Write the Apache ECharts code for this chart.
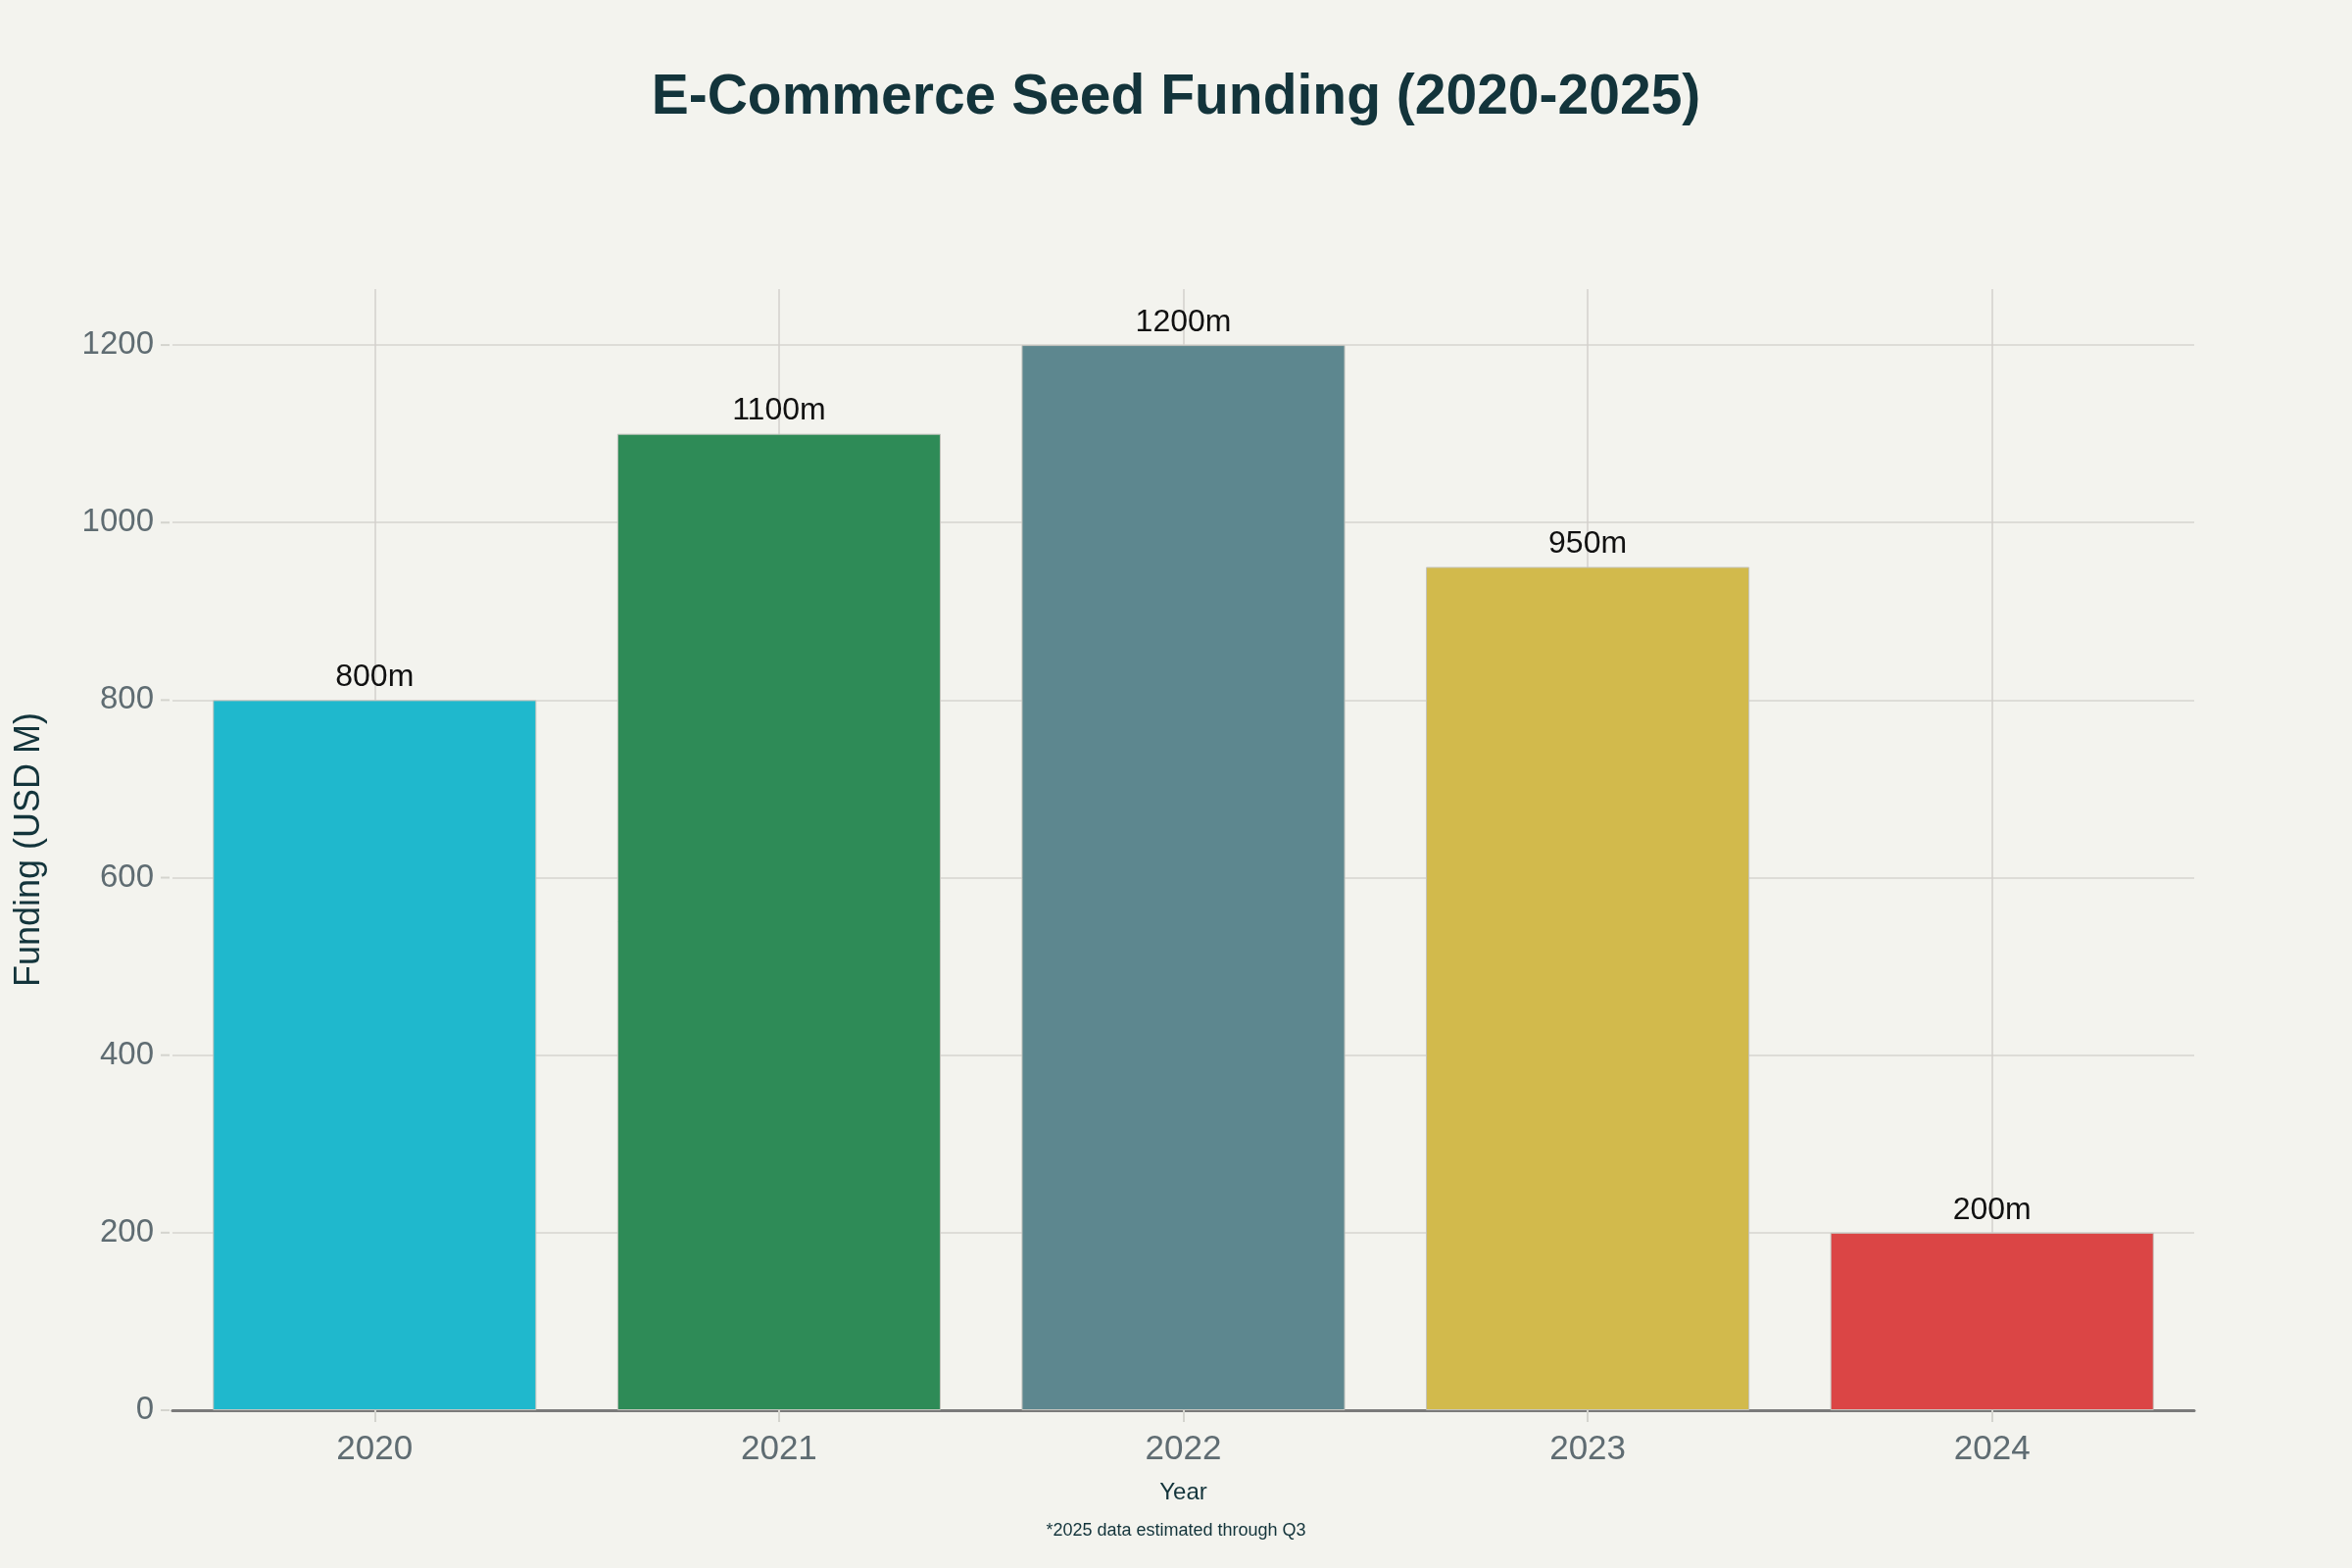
<!DOCTYPE html>
<html>
<head>
<meta charset="utf-8">
<title>E-Commerce Seed Funding</title>
<script src="https://cdn.jsdelivr.net/npm/echarts@6/dist/echarts.min.js"></script>
<style>
  html, body { margin: 0; padding: 0; background: #F3F3EE; }
  #chart { width: 2400px; height: 1600px; }
</style>
</head>
<body>
<div id="chart"></div>
<script>
var years = ['2020', '2021', '2022', '2023', '2024'];
var funding = [800, 1100, 1200, 950, 200];
var barColors = ['#1FB8CD', '#2E8B57', '#5D878F', '#D2BA4C', '#DB4545'];
var yTicks = [0, 200, 400, 600, 800, 1000, 1200];

var chartDom = document.getElementById('chart');
var myChart = echarts.init(chartDom);
var font = '"Liberation Sans", Arial, sans-serif';

// bars get their own colour each
var barData = [];
for (let i = 0; i < funding.length; i++) {
  barData.push({ value: funding[i], itemStyle: { color: barColors[i] } });
}

var option = {
  backgroundColor: '#F3F3EE',
  textStyle: { fontFamily: font },
  title: {
    text: 'E-Commerce Seed Funding (2020-2025)',
    left: 'center',
    top: 67,
    textStyle: { fontSize: 57, fontWeight: 'bold', color: '#13343B', fontFamily: font }
  },
  grid: { left: 176, right: 161, top: 295, bottom: 161 },
  graphic: [{
    type: 'text',
    left: 'center',
    top: 1553,
    style: { text: '*2025 data estimated through Q3', fontSize: 18, fill: '#13343B', fontFamily: font }
  }],
  xAxis: {
    type: 'category',
    data: years,
    name: 'Year',
    nameLocation: 'middle',
    nameGap: 72,
    nameTextStyle: { fontSize: 24, color: '#13343B' },
    axisLine: { lineStyle: { color: '#7A7A7A', width: 3 } },
    axisTick: { show: true, alignWithLabel: true, length: 12, lineStyle: { color: '#D4D4CE', width: 2 } },
    axisLabel: { fontSize: 35, color: '#5F6C72', margin: 23 },
    splitLine: { show: true, alignWithLabel: true, lineStyle: { color: '#D3D1CC', width: 1.5 } }
  },
  yAxis: {
    type: 'value',
    min: 0,
    max: 1263,
    interval: 200,
    name: 'Funding (USD M)',
    nameLocation: 'middle',
    nameGap: 128,
    nameTextStyle: { fontSize: 36, color: '#13343B' },
    axisLine: { show: false },
    axisTick: { show: false },
    axisLabel: {
      color: '#5F6C72',
      margin: 3,
      showMaxLabel: false,
      formatter: function (v) {
        if (yTicks.indexOf(v) < 0) return '';
        return '{v|' + v + '}{t|}';
      },
      rich: {
        v: { fontSize: 33, color: '#5F6C72', padding: [0, 7, 0, 0], fontFamily: font },
        t: { width: 9, height: 2, backgroundColor: '#D4D4CE' }
      }
    },
    splitLine: { show: true, showMaxLine: false, lineStyle: { color: '#D6D4CF', width: 1.5 } }
  },
  series: [{
    type: 'bar',
    data: barData,
    barWidth: '80%',
    itemStyle: { borderColor: '#C4C4BE', borderWidth: 1 },
    label: {
      show: true,
      position: 'top',
      distance: 7,
      fontSize: 32,
      color: '#111111',
      fontFamily: font,
      formatter: '{c}m'
    }
  }]
};

option && myChart.setOption(option);
</script>
</body>
</html>
